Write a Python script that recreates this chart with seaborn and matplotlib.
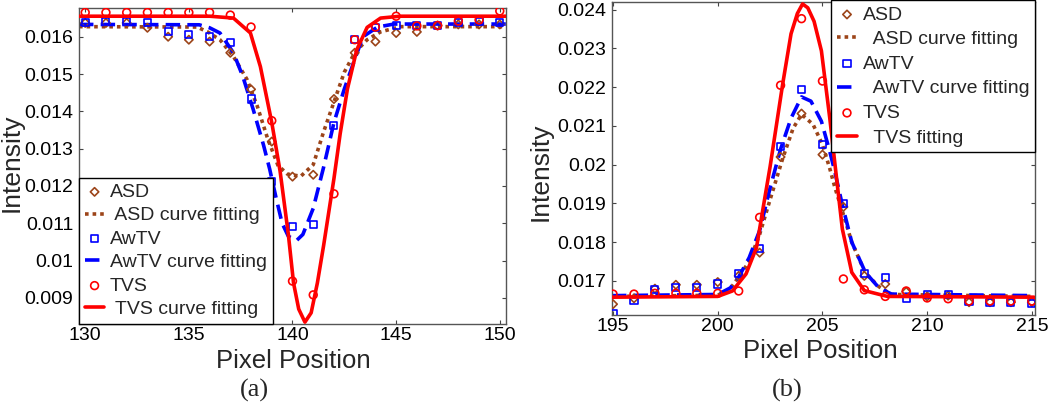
import numpy as np
import pandas as pd
import matplotlib
matplotlib.use("Agg")
import matplotlib.pyplot as plt
import seaborn as sns

sns.set_style("ticks")
plt.rcParams['font.family'] = ['Liberation Sans', 'DejaVu Sans']

# ---------------- data: panel (a) ----------------
a_x = list(range(130, 151))
a_asd = [0.01637, 0.01637, 0.01637, 0.01624, 0.01600, 0.01592, 0.01587, 0.01557, 0.01459, 0.01319,
         0.01225, 0.01230, 0.01433, 0.01557, 0.01587, 0.01610, 0.01613, 0.01630, 0.01633, 0.01633, 0.01633]
a_awtv = [0.01637, 0.01642, 0.01642, 0.01637, 0.01613, 0.01605, 0.01600, 0.01584, 0.01433, 0.01213,
          0.01091, 0.01096, 0.01361, 0.01592, 0.01624, 0.01630, 0.01630, 0.01630, 0.01637, 0.01640, 0.01637]
a_tvs = [0.01665, 0.01665, 0.01665, 0.01665, 0.01665, 0.01665, 0.01665, 0.01658, 0.01626, 0.01375,
         0.00945, 0.00908, 0.01179, 0.01592, 0.01626, 0.01655, 0.01629, 0.01630, 0.01642, 0.01645, 0.01669]

a_asd_fit_x = [129.7, 135.4, 135.9, 136.5, 137.15, 137.8, 138.3, 138.8, 139.3, 139.75, 140.4, 141.0,
               141.5, 142.0, 142.5, 143.0, 143.6, 144.25, 145.2, 150.3]
a_asd_fit_y = [0.01627, 0.01626, 0.01613, 0.01592, 0.01547, 0.01486, 0.01414, 0.01327, 0.01255, 0.01232,
               0.01226, 0.01257, 0.01345, 0.01425, 0.01505, 0.01557, 0.01592, 0.01613, 0.01627, 0.01627]
a_awtv_fit_x = [129.7, 135.5, 136.0, 136.5, 137.15, 137.6, 138.1, 138.6, 138.9, 139.2, 139.5, 139.8,
                140.2, 140.5, 141.0, 141.5, 142.0, 142.5, 143.0, 143.4, 144.1, 144.9, 150.3]
a_awtv_fit_y = [0.01633, 0.01632, 0.01624, 0.01610, 0.01557, 0.01494, 0.01406, 0.01310, 0.01245, 0.01170,
                0.01100, 0.01065, 0.01054, 0.01070, 0.01140, 0.01250, 0.01370, 0.01460, 0.01539, 0.01600,
                0.01626, 0.01634, 0.01634]
a_tvs_fit_x = [129.7, 136.0, 137.15, 137.97, 138.45, 139.0, 139.4, 139.8, 140.05, 140.3, 140.6, 140.9,
               141.2, 141.5, 142.0, 142.3, 142.65, 143.1, 143.6, 144.25, 145.2, 150.3]
a_tvs_fit_y = [0.01655, 0.01655, 0.01650, 0.01610, 0.01520, 0.01370, 0.01240, 0.01070, 0.00940, 0.00870,
               0.00835, 0.00860, 0.00940, 0.01040, 0.01220, 0.01340, 0.01460, 0.01565, 0.01625, 0.01650,
               0.01655, 0.01655]

a_yticks = [0.009, 0.010, 0.011, 0.012, 0.013, 0.014, 0.015, 0.016]
a_yticklabels = ['0.009', '0.01', '0.011', '0.012', '0.013', '0.014', '0.015', '0.016']
a_xticks = [130, 135, 140, 145, 150]

# ---------------- data: panel (b) ----------------
b_x = list(range(195, 216))
b_asd = [0.01640, 0.01655, 0.01680, 0.01690, 0.01690, 0.01697, 0.01713, 0.01773, 0.02020, 0.02132,
         0.02026, 0.01891, 0.01713, 0.01692, 0.01672, 0.01660, 0.01662, 0.01645, 0.01645, 0.01645, 0.01645]
b_awtv = [0.01617, 0.01650, 0.01677, 0.01684, 0.01684, 0.01692, 0.01718, 0.01783, 0.02047, 0.02195,
          0.02052, 0.01899, 0.01718, 0.01708, 0.01654, 0.01666, 0.01666, 0.01648, 0.01645, 0.01645, 0.01641]
b_tvs = [0.01666, 0.01666, 0.01668, 0.01668, 0.01668, 0.01668, 0.01674, 0.01864, 0.02205, 0.02377,
         0.02216, 0.01705, 0.01677, 0.01660, 0.01674, 0.01656, 0.01654, 0.01648, 0.01648, 0.01648, 0.01648]

b_asd_fit_x = [194.95, 200.0, 200.6, 201.0, 201.5, 202.0, 202.5, 203.1, 203.6, 204.0, 204.55, 205.0,
               205.35, 205.6, 205.95, 206.4, 207.05, 207.7, 208.3, 215.1]
b_asd_fit_y = [0.01660, 0.01663, 0.01680, 0.01710, 0.01750, 0.01820, 0.01910, 0.02016, 0.02094, 0.02130,
               0.02104, 0.02052, 0.01990, 0.01940, 0.01880, 0.01800, 0.01720, 0.01685, 0.01665, 0.01660]
b_awtv_fit_x = [194.95, 200.0, 200.6, 201.0, 201.5, 202.0, 202.5, 203.0, 203.5, 204.0, 204.45, 204.95,
                205.35, 205.6, 205.95, 206.4, 207.05, 207.7, 208.3, 215.1]
b_awtv_fit_y = [0.01662, 0.01665, 0.01682, 0.01710, 0.01760, 0.01830, 0.01940, 0.02040, 0.02120, 0.02175,
                0.02164, 0.02112, 0.02034, 0.01980, 0.01896, 0.01800, 0.01722, 0.01682, 0.01666, 0.01662]
b_tvs_fit_x = [194.95, 200.0, 200.7, 201.35, 201.85, 202.15, 202.5, 203.1, 203.5, 203.8, 204.05, 204.3,
               204.6, 204.95, 205.35, 205.6, 205.95, 206.4, 207.0, 208.1, 215.1]
b_tvs_fit_y = [0.01658, 0.01660, 0.01674, 0.01718, 0.01786, 0.01883, 0.01995, 0.02208, 0.02338, 0.02390,
               0.02415, 0.02405, 0.02370, 0.02294, 0.02120, 0.02000, 0.01834, 0.01722, 0.01675, 0.01660,
               0.01658]

b_yticks = [0.017, 0.018, 0.019, 0.020, 0.021, 0.022, 0.023, 0.024]
b_yticklabels = ['0.017', '0.018', '0.019', '0.02', '0.021', '0.022', '0.023', '0.024']
b_xticks = [195, 200, 205, 210, 215]

labels_a = ['ASD', ' ASD curve fitting', 'AwTV', 'AwTV curve fitting', 'TVS', ' TVS curve fitting']
labels_b = ['ASD', '  ASD curve fitting', 'AwTV', '  AwTV curve fitting', 'TVS', '  TVS fitting']

C_ASD = '#9c4419'
C_AWTV = '#0000ff'
C_TVS = '#ff0000'

fig = plt.figure(figsize=(10.5, 4.08), dpi=100)
ax1 = fig.add_axes([79 / 1050, 1 - 324 / 408, (506 - 79) / 1050, (324 - 8) / 408])
ax2 = fig.add_axes([612 / 1050, 1 - 315 / 408, (1035 - 612) / 1050, (315 - 2) / 408])


def draw(ax, x, asd, awtv, tvs, fits, labels):
    (fax, fay), (fwx, fwy), (ftx, fty) = fits
    ms = 26
    sns.scatterplot(x=x, y=asd, ax=ax, marker='D', s=ms * 0.7, facecolor='none', edgecolor=C_ASD,
                    linewidth=1.2, label=labels[0], zorder=3)
    sns.lineplot(x=fax, y=fay, ax=ax, color=C_ASD, linewidth=2.6, linestyle=(0, (1, 1.1)),
                 sort=False, estimator=None, label=labels[1], zorder=2)
    sns.scatterplot(x=x, y=awtv, ax=ax, marker='s', s=ms, facecolor='none', edgecolor=C_AWTV,
                    linewidth=1.2, label=labels[2], zorder=3)
    sns.lineplot(x=fwx, y=fwy, ax=ax, color=C_AWTV, linewidth=2.6, linestyle=(0, (4, 2)),
                 sort=False, estimator=None, label=labels[3], zorder=2)
    sns.scatterplot(x=x, y=tvs, ax=ax, marker='o', s=ms * 1.2, facecolor='none', edgecolor=C_TVS,
                    linewidth=1.2, label=labels[4], zorder=3)
    sns.lineplot(x=ftx, y=fty, ax=ax, color=C_TVS, linewidth=2.6, linestyle='-',
                 sort=False, estimator=None, label=labels[5], zorder=4)


draw(ax1, a_x, a_asd, a_awtv, a_tvs,
     [(a_asd_fit_x, a_asd_fit_y), (a_awtv_fit_x, a_awtv_fit_y), (a_tvs_fit_x, a_tvs_fit_y)], labels_a)
draw(ax2, b_x, b_asd, b_awtv, b_tvs,
     [(b_asd_fit_x, b_asd_fit_y), (b_awtv_fit_x, b_awtv_fit_y), (b_tvs_fit_x, b_tvs_fit_y)], labels_b)

ax1.set_xlim(129.7, 150.3)
ax1.set_ylim(0.0083, 0.01677)
ax2.set_xlim(194.95, 215.15)
ax2.set_ylim(0.01612, 0.0242)

for ax, xt, yt, ytl in [(ax1, a_xticks, a_yticks, a_yticklabels), (ax2, b_xticks, b_yticks, b_yticklabels)]:
    ax.set_xticks(xt)
    ax.set_xticklabels([str(v) for v in xt])
    ax.set_yticks(yt)
    ax.set_yticklabels(ytl)
    ax.tick_params(direction='in', length=3, width=0.8, top=True, right=True,
                   labelsize=14, colors='#444444', labelcolor='black', pad=4)
    ax.tick_params(axis='x', pad=2)
    for sp in ax.spines.values():
        sp.set_color('#555555')
        sp.set_linewidth(1.0)
    ax.set_xlabel('')
    ax.set_ylabel('')

leg_kw = dict(fontsize=14, frameon=True, fancybox=False, framealpha=1, edgecolor='black',
              borderaxespad=0, handlelength=1.0, handletextpad=0.3,
              borderpad=0.3, markerscale=1.0)
l1 = ax1.legend(loc='lower left', labelspacing=0.3, **leg_kw)
l2 = ax2.legend(loc='upper right', labelspacing=0.36, bbox_to_anchor=(1.0, 1.006), **leg_kw)
for l in (l1, l2):
    l.get_frame().set_linewidth(1.0)
    l.set_zorder(10)

fig.text(293 / 1050, 1 - 349 / 408, 'Pixel Position', fontsize=18.5, ha='center', va='top')
fig.text(820 / 1050, 1 - 339 / 408, 'Pixel Position', fontsize=18.5, ha='center', va='top')
fig.text(12 / 1050, 1 - 163 / 408, 'Intensity', fontsize=19, ha='center', va='center', rotation=90)
fig.text(541 / 1050, 1 - 172 / 408, 'Intensity', fontsize=19, ha='center', va='center', rotation=90)
fig.text(254 / 1050, 1 - 378.5 / 408, '(a)', fontsize=19, ha='center', va='top', family='Liberation Serif')
fig.text(787 / 1050, 1 - 378.5 / 408, '(b)', fontsize=19, ha='center', va='top', family='Liberation Serif')

fig.savefig('out.png', dpi=100)
